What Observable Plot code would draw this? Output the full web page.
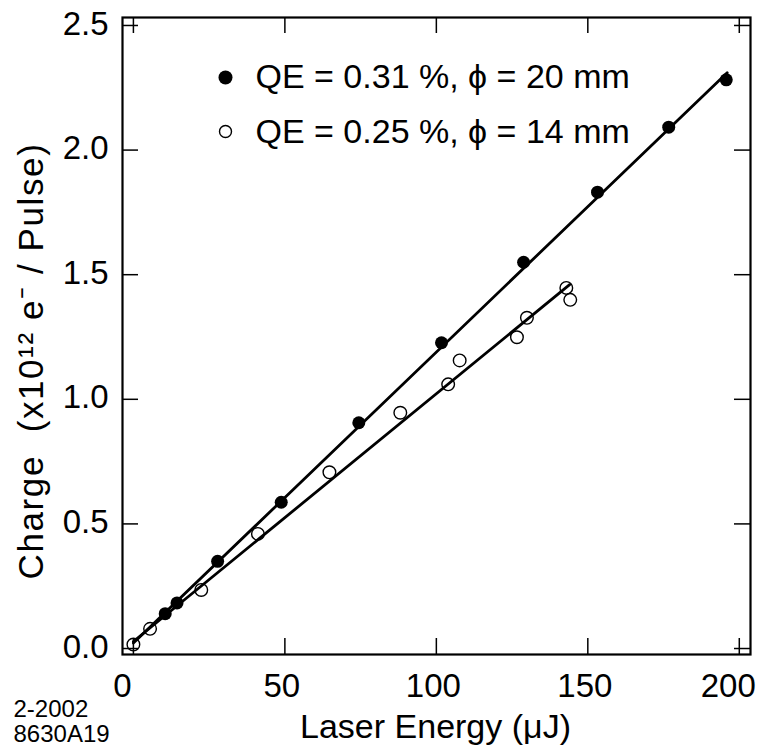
<!DOCTYPE html>
<html><head><meta charset="utf-8">
<script src="https://cdn.jsdelivr.net/npm/d3@7"></script>
<script src="https://cdn.jsdelivr.net/npm/@observablehq/plot@0.6"></script>
<style>
body{margin:0;background:#fff;}
#chart svg{display:block;}
</style>
</head><body><div id="chart"></div>
<script>
// Series 1: QE = 0.31 %, phi = 20 mm (filled)
const energyFilled = [10.5, 14.4, 27.8, 48.8, 74.4, 101.7, 128.8, 153.2, 176.7, 195.7];
const chargeFilled = [0.14, 0.183, 0.35, 0.587, 0.906, 1.227, 1.55, 1.831, 2.092, 2.282];
// Series 2: QE = 0.25 %, phi = 14 mm (open)
const energyOpen = [0, 5.5, 22.4, 41.1, 64.7, 88.1, 103.9, 107.7, 126.6, 129.9, 142.9, 144.2];
const chargeOpen = [0.016, 0.079, 0.235, 0.46, 0.707, 0.946, 1.06, 1.156, 1.249, 1.327, 1.447, 1.399];
// Linear fits (end points)
const fitEnergyFilled = [0, 196];
const fitChargeFilled = [0.022, 2.31];
const fitEnergyOpen = [0, 144];
const fitChargeOpen = [0.028, 1.46];

const legendLabels = ["QE = 0.31 %, \u03D5 = 20 mm", "QE = 0.25 %, \u03D5 = 14 mm"];
const xTicks = [0, 50, 100, 150, 200];
const yTicks = [0, 0.5, 1.0, 1.5, 2.0, 2.5];
const xLabel = "Laser Energy (\u03BCJ)";
const yLabel = "Charge  (x10\u00B9\u00B2 e\u207B / Pulse)";
const captionLines = ["2-2002", "8630A19"];

const xDomain = [-3.6, 203.7];
const yDomain = [-0.024, 2.532];

const filled = energyFilled.map((x, i) => ({x, y: chargeFilled[i]}));
const open = energyOpen.map((x, i) => ({x, y: chargeOpen[i]}));
const fitA = fitEnergyFilled.map((x, i) => ({x, y: fitChargeFilled[i]}));
const fitB = fitEnergyOpen.map((x, i) => ({x, y: fitChargeOpen[i]}));

const FONT = "Liberation Sans, Arial, Helvetica, sans-serif";
const TS = 33; // tick label size
const TL = 16; // tick length

const chart = Plot.plot({
  width: 769,
  height: 753,
  marginLeft: 122,
  marginRight: 19,
  marginTop: 17,
  marginBottom: 99,
  style: {fontFamily: FONT, background: "#fff", color: "#000", whiteSpace: "pre"},
  x: {domain: xDomain, axis: null},
  y: {domain: yDomain, axis: null},
  marks: [
    // inward ticks on all four sides
    Plot.ruleX(xTicks, {x: d => d, y1: yDomain[0], y2: yDomain[0], insetTop: -TL, stroke: "#000", strokeWidth: 1.5}),
    Plot.ruleX(xTicks, {x: d => d, y1: yDomain[1], y2: yDomain[1], insetBottom: -TL, stroke: "#000", strokeWidth: 1.5}),
    Plot.ruleY(yTicks, {y: d => d, x1: xDomain[0], x2: xDomain[0], insetRight: -TL, stroke: "#000", strokeWidth: 1.5}),
    Plot.ruleY(yTicks, {y: d => d, x1: xDomain[1], x2: xDomain[1], insetLeft: -TL, stroke: "#000", strokeWidth: 1.5}),
    Plot.frame({stroke: "#000", strokeWidth: 2.2}),
    // tick labels
    Plot.text(xTicks.filter(d => d > 0 && d < 200), {x: d => d, text: d => String(d), frameAnchor: "bottom", lineAnchor: "top", dy: 19, dx: -3, fontSize: TS, fill: "#000"}),
    Plot.text(xTicks.filter(d => d === 0 || d === 200), {x: d => d, text: d => String(d), frameAnchor: "bottom", lineAnchor: "top", dy: 19, dx: -11, fontSize: TS, fill: "#000"}),
    Plot.text(yTicks, {y: d => d, text: d => d.toFixed(1), frameAnchor: "left", textAnchor: "end", lineAnchor: "middle", dx: -14, dy: -1.5, fontSize: TS, fill: "#000"}),
    // axis labels
    Plot.text([xLabel], {text: d => d, frameAnchor: "bottom", lineAnchor: "top", dy: 59, dx: -1, fontSize: 34, fill: "#000"}),
    Plot.text([yLabel], {text: d => d, frameAnchor: "left", textAnchor: "middle", rotate: -90, lineAnchor: "middle", dx: -91, dy: 25, fontSize: 35, fill: "#000", className: "ylabel"}),
    // fit lines
    Plot.line(fitA, {x: "x", y: "y", stroke: "#000", strokeWidth: 2.8}),
    Plot.line(fitB, {x: "x", y: "y", stroke: "#000", strokeWidth: 2.8}),
    // data
    Plot.dot(open, {x: "x", y: "y", r: 6.3, stroke: "#000", strokeWidth: 1.4, fill: "none"}),
    Plot.dot(filled, {x: "x", y: "y", r: 6.5, fill: "#000", stroke: "none"}),
    // legend
    Plot.dot([legendLabels[0]], {frameAnchor: "top-left", dx: 103, dy: 60, r: 7, fill: "#000", stroke: "none"}),
    Plot.dot([legendLabels[1]], {frameAnchor: "top-left", dx: 103, dy: 114, r: 6, fill: "none", stroke: "#000", strokeWidth: 1.4}),
    Plot.text([legendLabels[0]], {text: d => d, frameAnchor: "top-left", textAnchor: "start", lineAnchor: "middle", dx: 133, dy: 60, fontSize: 34, fill: "#000"}),
    Plot.text([legendLabels[1]], {text: d => d, frameAnchor: "top-left", textAnchor: "start", lineAnchor: "middle", dx: 133, dy: 115, fontSize: 34, fill: "#000"}),
    // caption
    Plot.text([captionLines[0]], {text: d => d, frameAnchor: "bottom-left", textAnchor: "start", lineAnchor: "middle", dx: -109, dy: 55, fontSize: 24, fill: "#000"}),
    Plot.text([captionLines[1]], {text: d => d, frameAnchor: "bottom-left", textAnchor: "start", lineAnchor: "middle", dx: -109, dy: 80, fontSize: 24, fill: "#000"})
  ]
});
d3.select(chart).selectAll("text").filter(function() { return this.textContent === yLabel; }).style("letter-spacing", "1.6px");
document.getElementById("chart").appendChild(chart);
</script>
</body></html>
